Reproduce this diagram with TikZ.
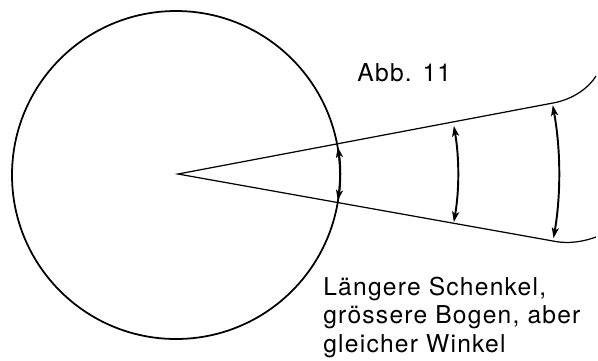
\documentclass[tikz,border=0pt]{standalone}
\usepackage{fontspec}
\setmainfont{TeX Gyre Heros}[LetterSpace=5]
\usetikzlibrary{arrows.meta}

\begin{document}
\begin{tikzpicture}[x=0.02cm, y=-0.02cm,
    every node/.style={font=\fontsize{14}{16.2}\selectfont, inner sep=0pt},
    schenkel/.style={line width=0.7pt},
    bogen/.style={{Stealth[length=6pt,width=4pt,inset=1.5pt]}-{Stealth[length=6pt,width=4pt,inset=1.5pt]}, line width=1.1pt}]
  \useasboundingbox (0,0) rectangle (598,360);
  % Kreis und Scheitel
  \coordinate (m) at (176,175);
  \coordinate (v) at (178,174);
  \coordinate (o) at (553,103);
  \coordinate (u) at (553,241);
  \coordinate (oe) at (596,76);
  \coordinate (ue) at (596,237);
  \draw[line width=1pt] (m) circle[radius=164];
  % Schenkel
  \draw[schenkel] (oe) .. controls (590,86) and (575,99) .. (o) -- (v) -- (u)
    .. controls (570,244.5) and (585,241) .. (ue);
  % Bogen
  \draw[bogen] (v) ++(-9.6:162) arc[start angle=-9.6, end angle=9.4, radius=162];
  \draw[bogen] (v) ++(-9.9:280) arc[start angle=-9.9, end angle=9.9, radius=280];
  \draw[bogen] (v) ++(-10.4:381) arc[start angle=-10.4, end angle=9.7, radius=381];
  \node[anchor=base west] (abb) at (357,81) {Abb. 11};
  \node[anchor=base west, align=left] (text) at (323,352)
    {Längere Schenkel,\\grössere Bogen, aber\\gleicher Winkel};
\end{tikzpicture}
\end{document}
